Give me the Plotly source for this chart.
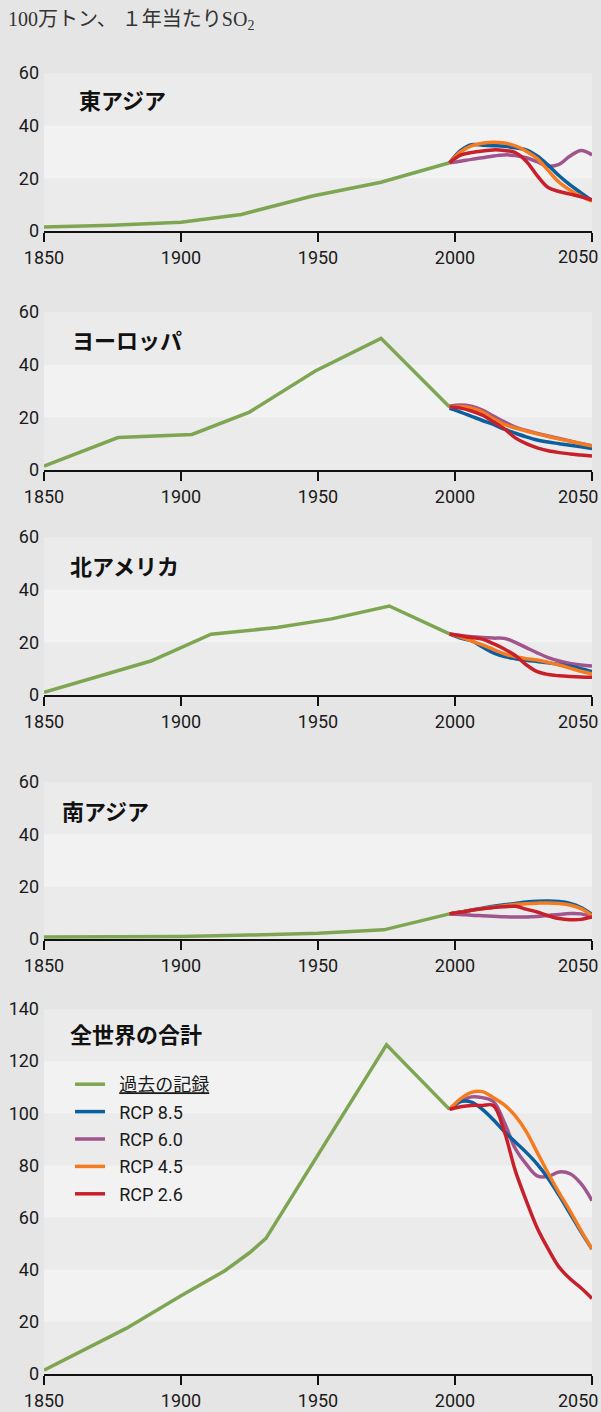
import plotly.graph_objects as go

W, H = 601, 1412

# ---- data: SO2 emissions, million tonnes per year ----
proj_years = [1998, 2002, 2006, 2010, 2014, 2018, 2022, 2026, 2030, 2034, 2038, 2042, 2046, 2050]

# East Asia
ea_hist_years = [1850, 1875, 1900, 1922, 1948, 1973, 1998]
ea_hist = [1.5, 2.2, 3.3, 6.3, 13.3, 18.5, 25.9]
ea_rcp85 = [25.9, 30.5, 32.8, 32.6, 32.4, 32.2, 31.6, 30.8, 28.5, 25.0, 21.0, 17.5, 14.5, 11.5]
ea_rcp60 = [25.9, 26.5, 27.2, 27.8, 28.5, 28.9, 28.7, 27.8, 26.3, 24.6, 25.3, 28.5, 30.6, 28.9]
ea_rcp45 = [25.9, 30.0, 32.3, 33.3, 33.7, 33.4, 32.3, 30.3, 27.5, 23.0, 18.5, 15.5, 13.2, 11.3]
ea_rcp26 = [25.9, 28.8, 29.8, 30.4, 30.8, 30.6, 29.8, 26.5, 21.0, 16.5, 15.0, 14.0, 13.0, 11.8]

# Europe
eu_hist_years = [1850, 1877, 1904, 1925, 1949, 1973, 1998]
eu_hist = [1.5, 12.3, 13.5, 22.0, 37.6, 50.0, 23.9]
eu_rcp85 = [23.4, 22.0, 20.4, 18.8, 17.3, 15.5, 14.0, 12.6, 11.4, 10.6, 10.0, 9.4, 8.8, 8.2]
eu_rcp60 = [24.2, 24.7, 24.2, 22.7, 20.5, 18.3, 16.3, 15.0, 13.9, 12.9, 12.0, 11.0, 10.1, 9.2]
eu_rcp45 = [23.9, 24.1, 23.6, 22.0, 19.5, 17.3, 15.9, 14.8, 13.7, 12.7, 11.8, 10.9, 10.0, 9.1]
eu_rcp26 = [23.9, 23.5, 22.4, 20.8, 18.3, 15.6, 12.2, 10.0, 8.4, 7.3, 6.6, 6.1, 5.7, 5.3]

# North America
na_hist_years = [1850, 1889, 1911, 1935, 1955, 1976, 1998]
na_hist = [1.0, 12.9, 23.1, 25.6, 28.9, 33.8, 23.2]
na_rcp85 = [23.2, 21.6, 20.6, 18.2, 16.0, 14.6, 13.8, 13.2, 12.7, 12.2, 11.6, 10.9, 10.0, 8.9]
na_rcp60 = [23.2, 22.6, 22.1, 21.8, 21.6, 21.5, 20.0, 18.0, 16.0, 14.2, 12.9, 12.0, 11.4, 11.0]
na_rcp45 = [23.2, 22.0, 20.5, 19.0, 17.3, 15.6, 14.5, 13.8, 13.3, 12.4, 11.4, 10.2, 9.0, 8.0]
na_rcp26 = [23.2, 22.5, 21.8, 21.2, 19.5, 17.5, 15.0, 11.5, 8.9, 7.8, 7.3, 7.0, 6.8, 6.7]

# South Asia
sa_hist_years = [1850, 1900, 1925, 1950, 1974, 1998]
sa_hist = [0.8, 1.0, 1.5, 2.2, 3.5, 9.6]
sa_rcp85 = [9.6, 10.3, 11.1, 11.8, 12.5, 13.1, 13.6, 14.1, 14.4, 14.5, 14.3, 13.6, 12.0, 9.4]
sa_rcp60 = [9.6, 9.4, 9.1, 8.9, 8.7, 8.5, 8.4, 8.4, 8.6, 9.0, 9.4, 9.7, 9.6, 8.4]
sa_rcp45 = [9.6, 10.2, 11.0, 11.6, 12.2, 12.7, 13.2, 13.5, 13.7, 13.8, 13.6, 13.0, 11.6, 9.0]
sa_rcp26 = [9.6, 10.2, 11.0, 11.6, 12.0, 12.3, 12.5, 11.4, 10.3, 8.9, 7.8, 7.4, 7.5, 8.4]

# World total
wd_hist_years = [1850, 1880, 1900, 1916, 1925, 1931, 1975, 1998]
wd_hist = [1.5, 17.5, 30.0, 39.6, 46.5, 52.0, 126.3, 101.5]
wd_rcp85 = [101.5, 104.5, 104.3, 101.5, 97.5, 93.0, 89.0, 85.0, 80.5, 75.0, 68.5, 61.5, 54.5, 47.9]
wd_rcp60 = [101.5, 104.5, 106.3, 106.0, 104.5, 96.5, 86.5, 80.5, 76.0, 75.8, 77.5, 76.8, 73.0, 66.5]
wd_rcp45 = [101.5, 105.5, 108.0, 108.3, 106.0, 103.2, 99.0, 93.0, 85.0, 77.0, 69.5, 62.5, 55.0, 48.0]
wd_rcp26 = [101.5, 102.5, 103.0, 103.0, 103.0, 93.0, 78.0, 66.5, 56.0, 48.0, 41.0, 36.5, 33.0, 29.0]

regions = ["東アジア", "ヨーロッパ", "北アメリカ", "南アジア", "全世界の合計"]
y_max = [60, 60, 60, 60, 140]
y_tick_step = 20
x_ticks = [1850, 1900, 1950, 2000, 2050]
# the final year label is set right-aligned at the edge instead of centred on its tick
x_tick_text = ["1850", "1900", "1950", "2000", ""]
x_last_label = "2050"

series_names = ["過去の記録", "RCP 8.5", "RCP 6.0", "RCP 4.5", "RCP 2.6"]
legend_labels = {
    "過去の記録": "\u2002<u>過去の記録</u>",
    "RCP 8.5": "\u2002RCP 8.5",
    "RCP 6.0": "\u2002RCP 6.0",
    "RCP 4.5": "\u2002RCP 4.5",
    "RCP 2.6": "\u2002RCP 2.6",
}
colors = {
    "過去の記録": "#7ea652",
    "RCP 8.5": "#0b5f9f",
    "RCP 6.0": "#a0558f",
    "RCP 4.5": "#f47b20",
    "RCP 2.6": "#c8202b",
}

panels = [
    (ea_hist_years, ea_hist, {"RCP 8.5": ea_rcp85, "RCP 6.0": ea_rcp60, "RCP 4.5": ea_rcp45, "RCP 2.6": ea_rcp26}),
    (eu_hist_years, eu_hist, {"RCP 8.5": eu_rcp85, "RCP 6.0": eu_rcp60, "RCP 4.5": eu_rcp45, "RCP 2.6": eu_rcp26}),
    (na_hist_years, na_hist, {"RCP 8.5": na_rcp85, "RCP 6.0": na_rcp60, "RCP 4.5": na_rcp45, "RCP 2.6": na_rcp26}),
    (sa_hist_years, sa_hist, {"RCP 8.5": sa_rcp85, "RCP 6.0": sa_rcp60, "RCP 4.5": sa_rcp45, "RCP 2.6": sa_rcp26}),
    (wd_hist_years, wd_hist, {"RCP 8.5": wd_rcp85, "RCP 6.0": wd_rcp60, "RCP 4.5": wd_rcp45, "RCP 2.6": wd_rcp26}),
]

# ---- layout geometry (pixels) ----
plot_left, plot_right = 44, 592
panel_px = [(73, 231), (312, 470), (537, 695), (782, 939), (1009, 1374)]
title_px = [(77, 99), (70, 339), (68, 565), (60, 810), (68, 1033)]

BG = "#e5e5e5"
BAND_DARK = "#ebebeb"
BAND_LIGHT = "#f2f2f2"
TICK_FONT = dict(family="Roboto, 'Noto Sans CJK JP', sans-serif", size=18, color="#1a1a1a")
CJK = "'Noto Sans CJK JP', sans-serif"

fig = go.Figure()
layout = dict(
    width=W, height=H,
    margin=dict(l=0, r=0, t=0, b=0, autoexpand=False),
    paper_bgcolor=BG,
    plot_bgcolor=BAND_DARK,
    showlegend=True,
    shapes=[],
    annotations=[],
)

# draw order inside each panel
draw_order = ["RCP 6.0", "RCP 8.5", "RCP 4.5", "RCP 2.6"]
legend_rank = {n: i for i, n in enumerate(series_names)}

for i, (hy, hv, proj) in enumerate(panels):
    n = i + 1
    sfx = "" if n == 1 else str(n)
    xa, ya = f"x{sfx}", f"y{sfx}"
    top, bottom = panel_px[i]
    layout[f"xaxis{sfx}"] = dict(
        domain=[plot_left / W, plot_right / W],
        range=[1850, 2050],
        anchor=ya,
        tickvals=x_ticks, ticktext=x_tick_text,
        ticks="outside", ticklen=9, tickwidth=1.5, tickcolor="#111",
        showline=True, linecolor="#111", linewidth=2,
        showgrid=False, zeroline=False,
        tickfont=TICK_FONT,
        automargin=False, fixedrange=True,
    )
    layout[f"yaxis{sfx}"] = dict(
        domain=[1 - bottom / H, 1 - top / H],
        range=[0, y_max[i]],
        anchor=xa,
        tickvals=list(range(0, y_max[i] + 1, y_tick_step)),
        ticks="", showline=False, showgrid=False, zeroline=False,
        tickfont=TICK_FONT, ticklabelstandoff=4, ticklabeloverflow="allow",
        automargin=False, fixedrange=True,
    )
    # alternating horizontal bands
    for b0 in range(20, y_max[i], 40):
        layout["shapes"].append(dict(
            type="rect", xref=f"{xa} domain", yref=ya,
            x0=0, x1=1, y0=b0, y1=b0 + 20,
            fillcolor=BAND_LIGHT, line=dict(width=0), layer="below",
        ))
    # last year label, kept inside the page edge
    layout["annotations"].append(dict(
        text=x_last_label, xref=xa, yref=f"{ya} domain",
        x=x_ticks[-1], y=0, xanchor="right", yanchor="middle",
        xshift=8, yshift=-26, showarrow=False, font=TICK_FONT,
    ))
    # region title
    tx, ty = title_px[i]
    layout["annotations"].append(dict(
        text=f"<b>{regions[i]}</b>", xref="paper", yref="paper",
        x=tx / W, y=1 - ty / H, xanchor="left", yanchor="middle",
        showarrow=False, font=dict(family=CJK, size=22, color="#111"),
    ))

    show = (n == 5)
    fig.add_trace(go.Scatter(
        x=hy, y=hv, xaxis=xa, yaxis=ya, mode="lines",
        line=dict(color=colors["過去の記録"], width=3.5),
        name=legend_labels["過去の記録"], legendgroup="過去の記録",
        legendrank=legend_rank["過去の記録"],
        showlegend=show, hoverinfo="skip",
    ))
    for name in draw_order:
        fig.add_trace(go.Scatter(
            x=proj_years, y=proj[name], xaxis=xa, yaxis=ya, mode="lines",
            line=dict(color=colors[name], width=3.5, shape="spline", smoothing=1.0),
            name=legend_labels[name], legendgroup=name,
            legendrank=legend_rank[name],
            showlegend=show, hoverinfo="skip",
        ))

# unit header
layout["annotations"].append(dict(
    text="100万トン、 １年当たりSO<sub>2</sub>", xref="paper", yref="paper",
    x=6 / W, y=1 - 21 / H, xanchor="left", yanchor="middle",
    showarrow=False,
    font=dict(family="'Liberation Serif', 'Noto Sans CJK JP', serif", size=20, color="#333"),
))

layout["legend"] = dict(
    x=70 / W, y=1 - 1066 / H, xanchor="left", yanchor="top",
    bgcolor="rgba(0,0,0,0)", borderwidth=0,
    font=dict(family="Roboto, 'Noto Sans CJK JP', sans-serif", size=18, color="#1a1a1a"),
    itemwidth=30, traceorder="grouped", tracegroupgap=1,
)

fig.update_layout(**layout)
fig.write_html("out.html", config={"displayModeBar": False})
